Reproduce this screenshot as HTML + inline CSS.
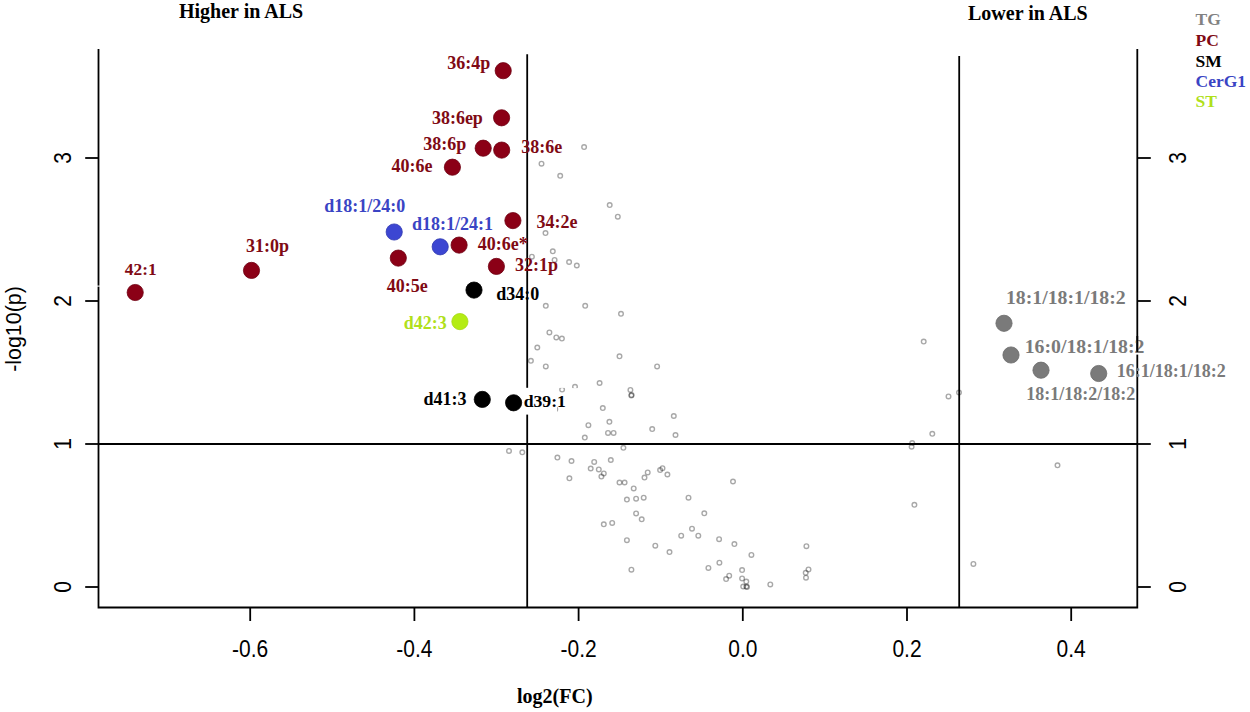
<!DOCTYPE html>
<html><head><meta charset="utf-8"><title>Volcano plot</title>
<style>html,body{margin:0;padding:0;background:#fff;width:1250px;height:712px;overflow:hidden}svg{display:block}.t{font-family:"Liberation Serif", serif;font-weight:bold}.s{font-family:"Liberation Sans", sans-serif}</style></head><body>
<svg width="1250" height="712" viewBox="0 0 1250 712">
<rect x="0" y="0" width="1250" height="712" fill="#fff"/>
<g fill="none" stroke="#000" stroke-opacity="0.34" stroke-width="1.4">
<circle cx="584.1" cy="147.1" r="2.3"/>
<circle cx="541.5" cy="163.7" r="2.3"/>
<circle cx="560.2" cy="175.8" r="2.3"/>
<circle cx="609.7" cy="205.1" r="2.3"/>
<circle cx="617.8" cy="216.7" r="2.3"/>
<circle cx="545.5" cy="233.1" r="2.3"/>
<circle cx="552.8" cy="251.3" r="2.3"/>
<circle cx="531.9" cy="256.7" r="2.3"/>
<circle cx="554.6" cy="259.9" r="2.3"/>
<circle cx="569.1" cy="262" r="2.3"/>
<circle cx="576.8" cy="265.5" r="2.3"/>
<circle cx="545.8" cy="305.8" r="2.3"/>
<circle cx="585.2" cy="305.8" r="2.3"/>
<circle cx="621" cy="313.8" r="2.3"/>
<circle cx="549.4" cy="332.4" r="2.3"/>
<circle cx="556.3" cy="337.4" r="2.3"/>
<circle cx="561.9" cy="338.6" r="2.3"/>
<circle cx="537.3" cy="347.5" r="2.3"/>
<circle cx="530.9" cy="360.8" r="2.3"/>
<circle cx="545.8" cy="366.4" r="2.3"/>
<circle cx="619.5" cy="356.3" r="2.3"/>
<circle cx="657.1" cy="366.4" r="2.3"/>
<circle cx="599.6" cy="383" r="2.3"/>
<circle cx="562.1" cy="389.6" r="2.3"/>
<circle cx="575" cy="386.8" r="2.3"/>
<circle cx="630.4" cy="389.9" r="2.3"/>
<circle cx="631.6" cy="395" r="2.3"/>
<circle cx="631.3" cy="395.6" r="2.3"/>
<circle cx="555.3" cy="409.3" r="2.3"/>
<circle cx="602.8" cy="408.1" r="2.3"/>
<circle cx="609.4" cy="421.8" r="2.3"/>
<circle cx="588.4" cy="425.2" r="2.3"/>
<circle cx="673.8" cy="416" r="2.3"/>
<circle cx="652.2" cy="429.1" r="2.3"/>
<circle cx="608" cy="432.9" r="2.3"/>
<circle cx="613.6" cy="432.9" r="2.3"/>
<circle cx="584.8" cy="437.6" r="2.3"/>
<circle cx="675.5" cy="435" r="2.3"/>
<circle cx="623.4" cy="447.8" r="2.3"/>
<circle cx="509" cy="450.9" r="2.3"/>
<circle cx="522.3" cy="452.3" r="2.3"/>
<circle cx="557.4" cy="457.6" r="2.3"/>
<circle cx="571.5" cy="461" r="2.3"/>
<circle cx="594.2" cy="461.9" r="2.3"/>
<circle cx="610.8" cy="460" r="2.3"/>
<circle cx="590.7" cy="468.5" r="2.3"/>
<circle cx="598.8" cy="469.4" r="2.3"/>
<circle cx="603.8" cy="473.4" r="2.3"/>
<circle cx="601.4" cy="476.6" r="2.3"/>
<circle cx="569.4" cy="478.3" r="2.3"/>
<circle cx="647.7" cy="472.4" r="2.3"/>
<circle cx="644.5" cy="477.6" r="2.3"/>
<circle cx="660.1" cy="470.1" r="2.3"/>
<circle cx="662.5" cy="468.2" r="2.3"/>
<circle cx="667.4" cy="474.5" r="2.3"/>
<circle cx="619.5" cy="482.5" r="2.3"/>
<circle cx="624.6" cy="482.5" r="2.3"/>
<circle cx="633.7" cy="488.4" r="2.3"/>
<circle cx="733" cy="481.5" r="2.3"/>
<circle cx="626.9" cy="499.6" r="2.3"/>
<circle cx="636.1" cy="498.7" r="2.3"/>
<circle cx="643.7" cy="497.7" r="2.3"/>
<circle cx="688.5" cy="497.7" r="2.3"/>
<circle cx="636.1" cy="513.4" r="2.3"/>
<circle cx="641.7" cy="519.3" r="2.3"/>
<circle cx="704.3" cy="513.3" r="2.3"/>
<circle cx="603.8" cy="524.3" r="2.3"/>
<circle cx="612.2" cy="522.9" r="2.3"/>
<circle cx="692" cy="528.7" r="2.3"/>
<circle cx="681.2" cy="535.7" r="2.3"/>
<circle cx="698.3" cy="535.7" r="2.3"/>
<circle cx="719.1" cy="539.2" r="2.3"/>
<circle cx="734.4" cy="544.1" r="2.3"/>
<circle cx="626.9" cy="540.2" r="2.3"/>
<circle cx="655.3" cy="545.7" r="2.3"/>
<circle cx="669.5" cy="552.1" r="2.3"/>
<circle cx="751.4" cy="554.9" r="2.3"/>
<circle cx="806.4" cy="546.2" r="2.3"/>
<circle cx="719.4" cy="562.7" r="2.3"/>
<circle cx="708.4" cy="567.9" r="2.3"/>
<circle cx="742.1" cy="570.1" r="2.3"/>
<circle cx="631.4" cy="569.7" r="2.3"/>
<circle cx="729.2" cy="575.7" r="2.3"/>
<circle cx="726.1" cy="579.1" r="2.3"/>
<circle cx="742.1" cy="578.4" r="2.3"/>
<circle cx="746.3" cy="581.6" r="2.3"/>
<circle cx="743.2" cy="586.5" r="2.3"/>
<circle cx="746.3" cy="586.5" r="2.3"/>
<circle cx="747" cy="587" r="2.3"/>
<circle cx="770.3" cy="584.4" r="2.3"/>
<circle cx="808.5" cy="569.4" r="2.3"/>
<circle cx="805.7" cy="572.8" r="2.3"/>
<circle cx="806" cy="577.7" r="2.3"/>
<circle cx="923.7" cy="341.6" r="2.3"/>
<circle cx="948.5" cy="396.4" r="2.3"/>
<circle cx="959" cy="392.5" r="2.3"/>
<circle cx="932.3" cy="433.8" r="2.3"/>
<circle cx="912.2" cy="443" r="2.3"/>
<circle cx="911.6" cy="446.7" r="2.3"/>
<circle cx="1057.5" cy="465.3" r="2.3"/>
<circle cx="914.4" cy="504.8" r="2.3"/>
<circle cx="973.4" cy="563.9" r="2.3"/>
</g>
<g stroke="#000" stroke-width="1.8" fill="none" stroke-linecap="butt">
<path d="M98.5 49V607.5H1137.3V49"/>
<path d="M250.2 607.5V621"/>
<path d="M414.4 607.5V621"/>
<path d="M578.6 607.5V621"/>
<path d="M742.8 607.5V621"/>
<path d="M907 607.5V621"/>
<path d="M1071.2 607.5V621"/>
<path d="M85.2 587H98.5"/>
<path d="M1137.3 587H1150.8"/>
<path d="M85.2 444H98.5"/>
<path d="M1137.3 444H1150.8"/>
<path d="M85.2 301H98.5"/>
<path d="M1137.3 301H1150.8"/>
<path d="M85.2 158H98.5"/>
<path d="M1137.3 158H1150.8"/>
<path d="M98.5 444H1137.3"/>
<path d="M527.2 54.2V607.5"/>
<path d="M959.2 56V607.5"/>
</g>
<rect x="96" y="285.6" width="5" height="1" fill="#fff"/>
<rect x="1135" y="352" width="5" height="2.6" fill="#fff"/>
<circle cx="503.2" cy="70.7" r="8.1" fill="#8b0016" stroke="#6e0012" stroke-width="0.8"/>
<circle cx="501.6" cy="117.8" r="8.1" fill="#8b0016" stroke="#6e0012" stroke-width="0.8"/>
<circle cx="483.2" cy="148.2" r="8.1" fill="#8b0016" stroke="#6e0012" stroke-width="0.8"/>
<circle cx="501.7" cy="150.1" r="8.1" fill="#8b0016" stroke="#6e0012" stroke-width="0.8"/>
<circle cx="452.4" cy="167.2" r="8.1" fill="#8b0016" stroke="#6e0012" stroke-width="0.8"/>
<circle cx="512.9" cy="220.6" r="8.1" fill="#8b0016" stroke="#6e0012" stroke-width="0.8"/>
<circle cx="459.1" cy="245.1" r="8.1" fill="#8b0016" stroke="#6e0012" stroke-width="0.8"/>
<circle cx="496.4" cy="266.4" r="8.1" fill="#8b0016" stroke="#6e0012" stroke-width="0.8"/>
<circle cx="398.3" cy="258.1" r="8.1" fill="#8b0016" stroke="#6e0012" stroke-width="0.8"/>
<circle cx="251.5" cy="270.4" r="8.1" fill="#8b0016" stroke="#6e0012" stroke-width="0.8"/>
<circle cx="135.2" cy="292.5" r="8.1" fill="#8b0016" stroke="#6e0012" stroke-width="0.8"/>
<circle cx="394.2" cy="232" r="8.1" fill="#3c46d2" stroke="#3038b0" stroke-width="0.8"/>
<circle cx="440.2" cy="246.8" r="8.1" fill="#3c46d2" stroke="#3038b0" stroke-width="0.8"/>
<circle cx="474" cy="290.1" r="8.1" fill="#000000" stroke="#000" stroke-width="0.8"/>
<circle cx="482.3" cy="399.4" r="8.1" fill="#000000" stroke="#000" stroke-width="0.8"/>
<circle cx="459.9" cy="321.6" r="8.1" fill="#b4ec14" stroke="#a6d812" stroke-width="0.8"/>
<circle cx="1004" cy="323.3" r="8.1" fill="#7a7a7a" stroke="#6a6a6a" stroke-width="0.8"/>
<circle cx="1011" cy="355" r="8.1" fill="#7a7a7a" stroke="#6a6a6a" stroke-width="0.8"/>
<circle cx="1041" cy="370.2" r="8.1" fill="#7a7a7a" stroke="#6a6a6a" stroke-width="0.8"/>
<circle cx="1098.7" cy="373.5" r="8.1" fill="#7a7a7a" stroke="#6a6a6a" stroke-width="0.8"/>
<text class="t" x="447.2" y="68.6" fill="#7f0a14" font-size="18">36:4p</text>
<text class="t" x="431.9" y="124.4" fill="#7f0a14" font-size="18">38:6ep</text>
<text class="t" x="423.3" y="149.8" fill="#7f0a14" font-size="18">38:6p</text>
<text class="t" x="521.2" y="153.2" fill="#7f0a14" font-size="18">38:6e</text>
<text class="t" x="391.5" y="171.7" fill="#7f0a14" font-size="18">40:6e</text>
<text class="t" x="536.5" y="227.5" fill="#7f0a14" font-size="18">34:2e</text>
<text class="t" x="477.8" y="249.5" fill="#7f0a14" font-size="18">40:6e*</text>
<text class="t" x="514.9" y="271.1" fill="#7f0a14" font-size="18">32:1p</text>
<text class="t" x="386.8" y="291.9" fill="#7f0a14" font-size="18">40:5e</text>
<text class="t" x="245.9" y="251.5" fill="#7f0a14" font-size="18">31:0p</text>
<text class="t" x="124.8" y="274.9" fill="#7f0a14" font-size="17.4">42:1</text>
<text class="t" x="324.2" y="212.4" fill="#3a44c4" font-size="18">d18:1/24:0</text>
<text class="t" x="411.9" y="229.8" fill="#3a44c4" font-size="18">d18:1/24:1</text>
<text class="t" x="496.3" y="300.2" fill="#000000" font-size="18">d34:0</text>
<text class="t" x="423.6" y="405.3" fill="#000000" font-size="18">d41:3</text>
<text class="t" x="403.8" y="328.6" fill="#b0e01a" font-size="18">d42:3</text>
<text class="t" x="1005.9" y="303.8" fill="#7a7a7a" font-size="19.8">18:1/18:1/18:2</text>
<text class="t" x="1024.7" y="352.7" fill="#7a7a7a" font-size="19.8">16:0/18:1/18:2</text>
<text class="t" x="1116.8" y="376.5" fill="#7a7a7a" font-size="18">16:1/18:1/18:2</text>
<text class="t" x="1026.2" y="399.9" fill="#7a7a7a" font-size="18">18:1/18:2/18:2</text>
<path d="M1137.3 336V352" stroke="#000" stroke-width="1.8"/>
<rect x="519" y="387.8" width="38" height="26.8" fill="#fff"/>
<rect x="570" y="388.1" width="10" height="4" fill="#fff"/>
<rect x="557" y="384" width="10" height="3.9" fill="#fff"/>
<circle cx="513.6" cy="402.8" r="8.1" fill="#000000" stroke="#000" stroke-width="0.8"/>
<text class="t" x="523.7" y="406.7" fill="#000000" font-size="17.7">d39:1</text>
<text class="s" font-size="21" text-anchor="middle" fill="#000" transform="translate(250.2 656.6) scale(1 1.1)">-0.6</text>
<text class="s" font-size="21" text-anchor="middle" fill="#000" transform="translate(414.4 656.6) scale(1 1.1)">-0.4</text>
<text class="s" font-size="21" text-anchor="middle" fill="#000" transform="translate(578.6 656.6) scale(1 1.1)">-0.2</text>
<text class="s" font-size="21" text-anchor="middle" fill="#000" transform="translate(742.8 656.6) scale(1 1.1)">0.0</text>
<text class="s" font-size="21" text-anchor="middle" fill="#000" transform="translate(907 656.6) scale(1 1.1)">0.2</text>
<text class="s" font-size="21" text-anchor="middle" fill="#000" transform="translate(1071.2 656.6) scale(1 1.1)">0.4</text>
<text class="s" font-size="21" text-anchor="middle" fill="#000" transform="translate(70.8 587) rotate(-90) scale(1 1.1)">0</text>
<text class="s" font-size="21" text-anchor="middle" fill="#000" transform="translate(1185.5 587) rotate(-90) scale(1 1.1)">0</text>
<text class="s" font-size="21" text-anchor="middle" fill="#000" transform="translate(70.8 444) rotate(-90) scale(1 1.1)">1</text>
<text class="s" font-size="21" text-anchor="middle" fill="#000" transform="translate(1185.5 444) rotate(-90) scale(1 1.1)">1</text>
<text class="s" font-size="21" text-anchor="middle" fill="#000" transform="translate(70.8 301) rotate(-90) scale(1 1.1)">2</text>
<text class="s" font-size="21" text-anchor="middle" fill="#000" transform="translate(1185.5 301) rotate(-90) scale(1 1.1)">2</text>
<text class="s" font-size="21" text-anchor="middle" fill="#000" transform="translate(70.8 158) rotate(-90) scale(1 1.1)">3</text>
<text class="s" font-size="21" text-anchor="middle" fill="#000" transform="translate(1185.5 158) rotate(-90) scale(1 1.1)">3</text>
<text class="t" x="179" y="18" font-size="20" fill="#000">Higher in ALS</text>
<text class="t" x="968" y="19.8" font-size="20" fill="#000">Lower in ALS</text>
<text class="t" x="517" y="702.7" font-size="20" fill="#000">log2(FC)</text>
<text class="s" font-size="21" text-anchor="middle" fill="#000" transform="translate(20.5 329) rotate(-90) scale(1.02 1.08)">-log10(p)</text>
<text class="t" x="1195.5" y="24.7" fill="#828282" font-size="17.5">TG</text>
<text class="t" x="1195.5" y="45.6" fill="#7f0a14" font-size="17.5">PC</text>
<text class="t" x="1195.5" y="66.5" fill="#000000" font-size="17.5">SM</text>
<text class="t" x="1195.5" y="87.3" fill="#3a44c4" font-size="17.5">CerG1</text>
<text class="t" x="1195.5" y="107.4" fill="#b0e01a" font-size="17.5">ST</text>
</svg></body></html>
